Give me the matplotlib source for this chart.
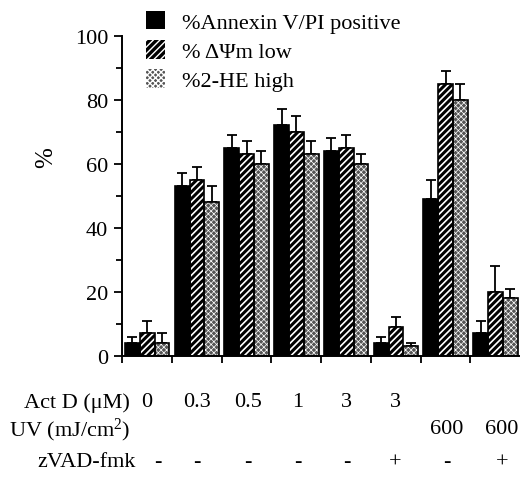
import matplotlib
matplotlib.use("Agg")
import matplotlib.pyplot as plt
import matplotlib.transforms as mtransforms
from matplotlib.patches import Rectangle
import numpy as np

plt.rcParams['font.family'] = ['Liberation Serif', 'DejaVu Serif']
plt.rcParams['mathtext.fontset'] = 'custom'
plt.rcParams['mathtext.rm'] = 'Liberation Serif'
plt.rcParams['mathtext.it'] = 'Liberation Serif:italic'

# ---- data ----
series_names = ['%Annexin V/PI positive', '% \u0394\u03a8m low', '%2-HE high']
annexin = [4, 53, 65, 72, 64, 4, 49, 7]
annexin_err = [2, 4, 4, 5, 4, 2, 6, 4]
dpsi = [7, 55, 63, 70, 65, 9, 85, 20]
dpsi_err = [4, 4, 4, 5, 4, 3, 4, 8]
he = [4, 48, 60, 63, 60, 3, 80, 18]
he_err = [3, 5, 4, 4, 3, 1, 5, 3]

actd_labels = ['0', '0.3', '0.5', '1', '3', '3', '', '']
uv_labels = ['', '', '', '', '', '', '600', '600']
zvad_labels = ['-', '-', '-', '-', '-', '+', '-', '+']
yticks = [0, 20, 40, 60, 80, 100]

W, H = 520, 489
fig = plt.figure(figsize=(W / 100, H / 100), dpi=100)
ax_left, ax_right = 122, 520
ax_top, ax_bot = 36.7, 356.7
ax = fig.add_axes([ax_left / W, (H - ax_bot) / H, (ax_right - ax_left) / W, (ax_bot - ax_top) / H])

n = len(annexin)
x = np.arange(n)
bw = 0.297
off = 0.06

styles = [
    dict(facecolor='black', edgecolor='black', hatch=None, hlw=1.0),
    dict(facecolor='black', edgecolor='white', hatch='/////', hlw=1.2),
    dict(facecolor='#555555', edgecolor='white', hatch='xxxxxx', hlw=0.5),
]
vals = [annexin, dpsi, he]
errs = [annexin_err, dpsi_err, he_err]
handles = []
for k in range(3):
    xs = x + off + k * bw
    st = styles[k]
    with plt.rc_context({'hatch.linewidth': st['hlw']}):
        b = ax.bar(xs, vals[k], width=bw, align='edge', facecolor=st['facecolor'],
                   edgecolor=st['edgecolor'], hatch=st['hatch'], linewidth=0, zorder=2)
    ax.bar(xs, vals[k], width=bw, align='edge', fill=False, edgecolor='black',
           linewidth=1.2, zorder=3)
    ax.errorbar(xs + bw / 2, vals[k], yerr=[np.zeros(n), errs[k]], fmt='none',
                ecolor='black', elinewidth=1.3, capsize=3.5, capthick=1.3, zorder=1)
    handles.append(b)

ax.set_xlim(0, 8)
ax.set_ylim(0, 100)
ax.set_yticks(yticks)
ax.set_yticks(np.arange(10, 100, 20), minor=True)
ax.set_xticks(np.arange(0, 8))
ax.set_xticklabels([])
ax.tick_params(axis='y', which='major', direction='out', length=6, width=1.3, labelsize=16, pad=4)
ax.tick_params(axis='y', which='minor', direction='out', length=4, width=1.3)
ax.tick_params(axis='x', which='major', direction='out', length=5, width=1.3)
for s in ['top', 'right']:
    ax.spines[s].set_visible(False)
for s in ['left', 'bottom']:
    ax.spines[s].set_linewidth(1.4)

fig.text(46 / W, 1 - 158 / H, '%', rotation=90, fontsize=18, ha='center', va='center')

# legend
leg = ax.legend(handles, series_names, loc='upper left', frameon=False, fontsize=16,
                bbox_to_anchor=(146 / W, 1 - 12 / H), bbox_transform=fig.transFigure,
                handlelength=0.85, handleheight=0.9, labelspacing=0.33, handletextpad=0.75,
                borderpad=0, borderaxespad=0)
for p in leg.get_patches():
    p.set_linewidth(0)

# condition table below axis
trans = mtransforms.blended_transform_factory(ax.transData, fig.transFigure)
centers = x + 0.5
row_y = [403, 430, 463]
fig.text(130 / W, 1 - row_y[0] / H, 'Act D (\u03bcM)', fontsize=16, ha='right', va='center')
fig.text(130 / W, 1 - row_y[1] / H, r'UV (mJ/cm$^{2}$)', fontsize=16, ha='right', va='center')
fig.text(136 / W, 1 - row_y[2] / H, 'zVAD-fmk', fontsize=16, ha='right', va='center')
shift = [0, 0.0, 0.03, 0.04, 0.02, 0, 0.03, 0.14]
for i in range(n):
    if actd_labels[i]:
        fig.text(centers[i] + shift[i], 1 - row_y[0] / H, actd_labels[i], transform=trans,
                 fontsize=16, ha='center', va='center')
    if uv_labels[i]:
        fig.text(centers[i] + shift[i], 1 - row_y[1] / H, uv_labels[i], transform=trans,
                 fontsize=16, ha='center', va='center')
    zx = centers[i] + shift[i] if i > 0 else centers[i] + 0.22
    fig.text(zx, 1 - row_y[2] / H, zvad_labels[i], transform=trans,
             fontsize=16, ha='center', va='center')

fig.savefig('out.png', dpi=100)
